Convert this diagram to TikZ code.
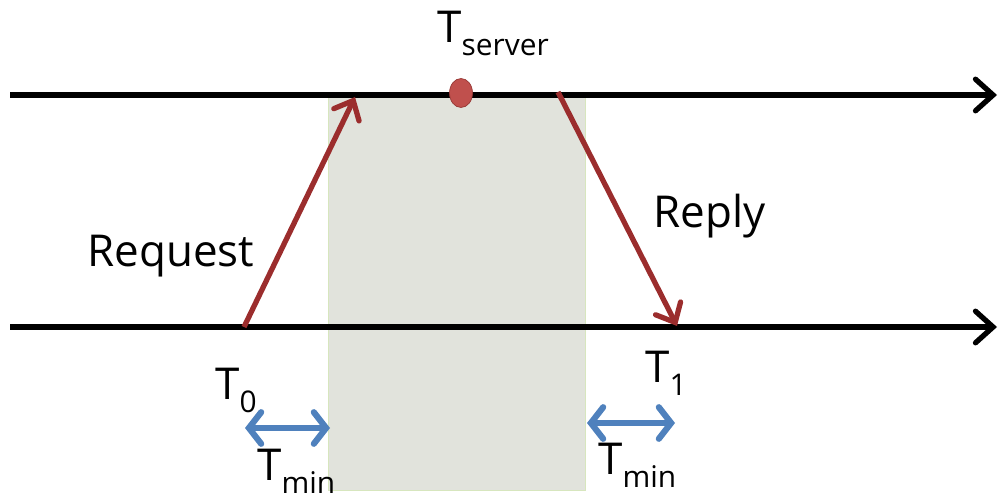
\documentclass[tikz,border=0pt]{standalone}
\usepackage{fontspec}
\setmainfont{Open Sans}
\usetikzlibrary{arrows.meta, shapes.geometric}
\definecolor{ArrowRed}{RGB}{155,45,45}
\definecolor{DotRed}{RGB}{192,80,77}
\definecolor{DotEdge}{RGB}{150,55,52}
\definecolor{GapBlue}{RGB}{79,129,189}
\definecolor{BoxFill}{RGB}{225,227,220}
\definecolor{BoxEdge}{RGB}{215,230,190}
\newcommand{\tlab}[1]{T\raisebox{-0.25cm}{\fontsize{17}{20}\selectfont #1}}
\tikzset{
    timeline/.style={line width=3pt, -{Straight Barb[length=10pt, width=18pt, line cap=round]}},
    message/.style={line width=3pt, ArrowRed, -{Straight Barb[length=9pt, width=16pt, line cap=round]}},
    gap/.style={line width=3.5pt, GapBlue, {Straight Barb[length=7pt, width=18pt, line cap=round]}-{Straight Barb[length=7pt, width=18pt, line cap=round]}},
    big/.style={font=\fontsize{25}{30}\selectfont, inner sep=0pt, anchor=base west}
}
\begin{document}
\begin{tikzpicture}[x=0.02cm, y=-0.02cm]
\useasboundingbox (0,0) rectangle (998,499);
% Shaded server window
\filldraw[fill=BoxFill, draw=BoxEdge, thin] (328,95) rectangle (585,490);

% Coordinates
\coordinate (serverL) at (10,95);
\coordinate (serverR) at (997,95);
\coordinate (clientL) at (10,327);
\coordinate (clientR) at (997,327);
\coordinate (reqStart) at (244,327);
\coordinate (reqEnd) at (355,97);
\coordinate (repStart) at (558,92);
\coordinate (repEnd) at (677,326);
\coordinate (gapAL) at (245,428);
\coordinate (gapAR) at (330,428);
\coordinate (gapBL) at (587,423);
\coordinate (gapBR) at (675,423);

% Time lines
\draw[timeline] (serverL) -- (serverR);
\draw[timeline] (clientL) -- (clientR);

% Messages
\draw[message] (reqStart) -- (reqEnd);
\draw[message] (repStart) -- (repEnd);

% Server time
\node[draw=DotEdge, fill=DotRed, ellipse, minimum width=0.46cm, minimum height=0.58cm, inner sep=0pt] (dot) at (461,93) {};
\node[big] (tserver) at (437,43) {\tlab{server}};

% Labels
\node[big] (request) at (87,267) {Request};
\node[big] (reply) at (653,228) {Reply};
\node[big] (t0) at (215,400) {\tlab{0}};
\node[big] (t1) at (645,383) {\tlab{1}};

% Minimum delays
\draw[gap] (gapAL) -- (gapAR);
\draw[gap] (gapBL) -- (gapBR);
\node[big] (tminA) at (257,481) {\tlab{min}};
\node[big] (tminB) at (598,475) {\tlab{min}};
\end{tikzpicture}
\end{document}
